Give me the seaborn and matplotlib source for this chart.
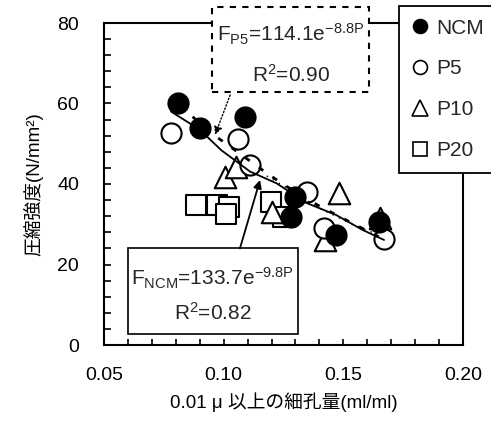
import numpy as np
import pandas as pd
import matplotlib
matplotlib.use("Agg")
import matplotlib.pyplot as plt
import seaborn as sns
from matplotlib.patches import Rectangle
from matplotlib.lines import Line2D

# ===========================
# Data
# ===========================

ncm_x = [0.081, 0.090, 0.109, 0.130, 0.128, 0.147, 0.165]
ncm_y = [60.0, 53.8, 56.6, 36.8, 31.9, 27.3, 30.6]

p5_x = [0.078, 0.106, 0.111, 0.135, 0.142, 0.167]
p5_y = [52.6, 51.1, 44.7, 37.9, 29.0, 26.3]

p10_x = [0.1006, 0.1052, 0.1200, 0.1483, 0.1424, 0.1653]
p10_y = [41.8, 44.3, 33.0, 37.7, 26.1, 31.6]

p20_x = [0.0885, 0.0971, 0.1022, 0.1010, 0.1196, 0.1249]
p20_y = [34.8, 34.8, 34.4, 32.5, 35.6, 31.7]

# fitted curves as drawn
fit_ncm_x = [0.078, 0.090, 0.099, 0.111, 0.122, 0.135, 0.147, 0.158, 0.167]
fit_ncm_y = [58.0, 53.5, 48.4, 43.1, 40.2, 35.2, 32.3, 28.6, 26.1]

fit_p5_x = [0.087, 0.098, 0.108, 0.118, 0.126, 0.140, 0.153, 0.165]
fit_p5_y = [56.7, 51.3, 47.0, 42.7, 39.5, 34.5, 30.5, 26.8]

fit_p10_x = [0.118, 0.128, 0.140, 0.152, 0.164]
fit_p10_y = [42.0, 38.5, 34.0, 30.5, 27.5]

series = ["NCM", "P5", "P10", "P20"]
xticks = [0.05, 0.10, 0.15, 0.20]
xticklabels = ["0.05", "0.10", "0.15", "0.20"]
yticks = [0, 20, 40, 60, 80]

sns.set_style("white")
plt.rcParams["font.family"] = ["Liberation Sans", "Noto Sans CJK JP", "DejaVu Sans"]
plt.rcParams["mathtext.fontset"] = "custom"
plt.rcParams["mathtext.rm"] = "Liberation Sans"
plt.rcParams["mathtext.it"] = "Liberation Sans"

fig = plt.figure(figsize=(4.91, 4.30), dpi=100)
ax = fig.add_axes([104 / 491, 85 / 430, 359 / 491, 322 / 430])

df = pd.DataFrame({
    "x": ncm_x + p5_x + p10_x + p20_x,
    "y": ncm_y + p5_y + p10_y + p20_y,
    "s": ["NCM"] * len(ncm_x) + ["P5"] * len(p5_x) + ["P10"] * len(p10_x) + ["P20"] * len(p20_x),
})

styles = {
    "NCM": dict(marker="o", facecolor="black", s=210),
    "P5": dict(marker="o", facecolor="white", s=210),
    "P10": dict(marker="^", facecolor="white", s=240),
    "P20": dict(marker="s", facecolor="white", s=190),
}

# draw order: squares, triangles, open circles, filled circles
for name in ["P20", "P10", "P5", "NCM"]:
    st = styles[name]
    sub = df[df["s"] == name]
    sns.scatterplot(data=sub, x="x", y="y", ax=ax, marker=st["marker"], s=st["s"],
                    color=st["facecolor"], edgecolor="black", linewidth=1.5,
                    zorder=3, legend=False)

# fit lines
sns.lineplot(x=fit_ncm_x, y=fit_ncm_y, ax=ax, color="black", linewidth=1.3,
             estimator=None, sort=False, zorder=4)
sns.lineplot(x=fit_p5_x, y=fit_p5_y, ax=ax, color="black", linewidth=2,
             linestyle=(0, (2, 4)), estimator=None, sort=False, zorder=4)
sns.lineplot(x=fit_p10_x, y=fit_p10_y, ax=ax, color="black", linewidth=1,
             linestyle=(0, (1, 4)), estimator=None, sort=False, zorder=4)

ax.set_xlim(0.05, 0.20)
ax.set_ylim(0, 80)
ax.set_xticks(xticks)
ax.set_xticklabels(xticklabels)
ax.set_xticks(np.arange(0.05, 0.2001, 0.01), minor=True)
ax.set_yticks(yticks)
ax.set_yticks(np.arange(0, 81, 4), minor=True)
ax.tick_params(axis="x", which="both", direction="in", length=4, width=1.2,
               bottom=True, labelsize=14, pad=16, colors="black")
ax.tick_params(axis="y", which="both", direction="in", length=5, width=1.2,
               left=True, labelsize=14, pad=18, colors="black")
ax.tick_params(which="minor", labelbottom=False, labelleft=False)
for sp in ax.spines.values():
    sp.set_linewidth(1.5)
    sp.set_color("black")

ax.set_xlabel("0.01 \u03bc 以上の細孔量(ml/ml)", fontsize=13.5, labelpad=6, color="black")
ax.set_ylabel("圧縮強度(N/mm²)", fontsize=13.5, labelpad=10, color="black")

# dashed equation box (P5)
ax.add_patch(Rectangle((0.300, 0.787), 0.439, 0.264, transform=ax.transAxes,
                       facecolor="white", edgecolor="black", linewidth=1.5,
                       linestyle=(0, (3, 3)), clip_on=False, zorder=6))
ax.text(0.52, 0.965, r"F$_{\mathrm{P5}}$=114.1e$^{-8.8\mathrm{P}}$", transform=ax.transAxes,
        ha="center", va="center", fontsize=15, zorder=7)
ax.text(0.52, 0.839, r"R$^{2}$=0.90", transform=ax.transAxes,
        ha="center", va="center", fontsize=15, zorder=7)

# solid equation box (NCM)
ax.add_patch(Rectangle((0.066, 0.034), 0.474, 0.266, transform=ax.transAxes,
                       facecolor="white", edgecolor="black", linewidth=1.2,
                       clip_on=False, zorder=6))
ax.text(0.303, 0.208, r"F$_{\mathrm{NCM}}$=133.7e$^{-9.8\mathrm{P}}$", transform=ax.transAxes,
        ha="center", va="center", fontsize=15, zorder=7)
ax.text(0.303, 0.099, r"R$^{2}$=0.82", transform=ax.transAxes,
        ha="center", va="center", fontsize=15, zorder=7)

# arrows
ax.annotate("", xy=(0.0964, 52.2), xytext=(0.1027, 62.1),
            arrowprops=dict(arrowstyle="-|>", linestyle=(0, (1, 1.5)), color="black",
                            lw=1, mutation_scale=12, shrinkA=0, shrinkB=0), zorder=7)
ax.annotate("", xy=(0.1152, 41.0), xytext=(0.1068, 24.0),
            arrowprops=dict(arrowstyle="-|>", color="black", lw=1.3,
                            mutation_scale=12, shrinkA=0, shrinkB=0), zorder=7)

# legend
handles = [
    Line2D([], [], linestyle="none", marker="o", markersize=10, markerfacecolor="black",
           markeredgecolor="black", markeredgewidth=1.2),
    Line2D([], [], linestyle="none", marker="o", markersize=10, markerfacecolor="white",
           markeredgecolor="black", markeredgewidth=1.2),
    Line2D([], [], linestyle="none", marker="^", markersize=11, markerfacecolor="white",
           markeredgecolor="black", markeredgewidth=1.2),
    Line2D([], [], linestyle="none", marker="s", markersize=10, markerfacecolor="white",
           markeredgecolor="black", markeredgewidth=1.2),
]
leg = fig.legend(handles, series, loc="upper left", bbox_to_anchor=(399 / 491, 1 - 6 / 430),
                 frameon=True, fancybox=False, fontsize=15, labelspacing=1.05,
                 handlelength=0.8, handletextpad=0.4, borderpad=0.6, borderaxespad=0)
leg.get_frame().set_edgecolor("black")
leg.get_frame().set_linewidth(1.3)
leg.get_frame().set_facecolor("white")
leg.get_frame().set_alpha(1)

fig.savefig("out.png", dpi=100)
